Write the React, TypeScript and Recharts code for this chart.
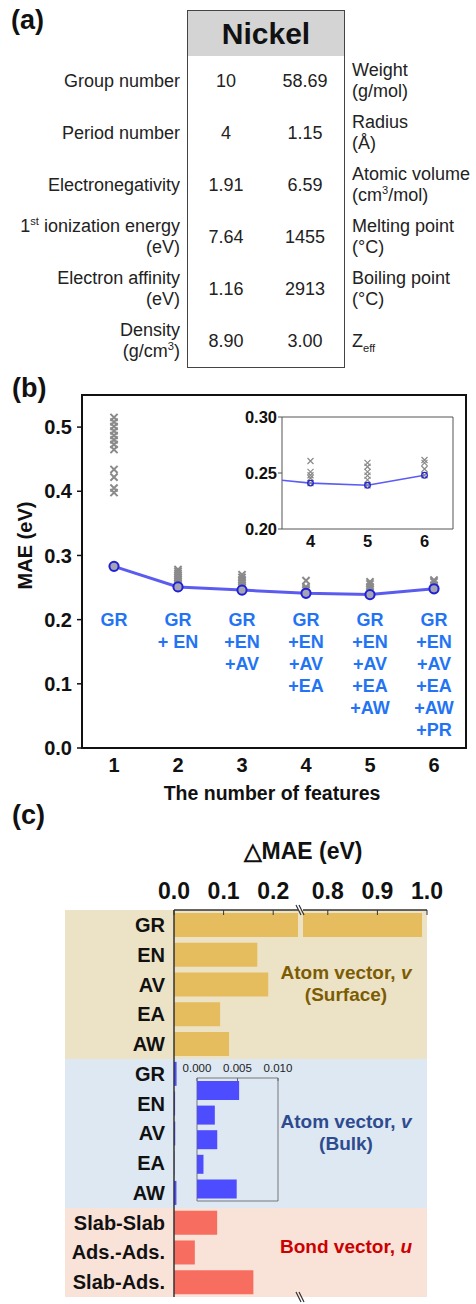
import React from "react";
import { Bar, BarChart, Cell, ComposedChart, Label, Line, ReferenceArea, Scatter, XAxis, YAxis } from "recharts";

const FONT = '"Liberation Sans", Arial, Helvetica, sans-serif';

// (a) Nickel descriptor card
const sup = { fontSize: "0.62em", verticalAlign: "super", lineHeight: 0 } as const;
const sub = { fontSize: "0.62em", verticalAlign: "sub", lineHeight: 0 } as const;
const nickelLeftNames: React.ReactNode[][] = [
  ["Group number"],
  ["Period number"],
  ["Electronegativity"],
  [<>1<span style={sup}>st</span> ionization energy</>, "(eV)"],
  ["Electron affinity", "(eV)"],
  ["Density", <>(g/cm<span style={sup}>3</span>)</>],
];
const nickelLeftValues = ["10", "4", "1.91", "7.64", "1.16", "8.90"];
const nickelRightValues = ["58.69", "1.15", "6.59", "1455", "2913", "3.00"];
const nickelRightNames: React.ReactNode[][] = [
  ["Weight", "(g/mol)"],
  ["Radius", "(Å)"],
  ["Atomic volume", <>(cm<span style={sup}>3</span>/mol)</>],
  ["Melting point", "(°C)"],
  ["Boiling point", "(°C)"],
  [<>Z<span style={sub}>eff</span></>],
];

// (b) MAE vs number of features
const featureCounts = [1, 2, 3, 4, 5, 6];
const bestMae = [0.283, 0.251, 0.246, 0.241, 0.239, 0.248];
const trialMae1 = [0.515, 0.508, 0.501, 0.494, 0.487, 0.48, 0.473, 0.465, 0.434, 0.422, 0.405, 0.398, 0.283];
const trialMae2 = [0.278, 0.275, 0.272, 0.269, 0.266, 0.263, 0.26, 0.257, 0.254, 0.251];
const trialMae3 = [0.27, 0.266, 0.262, 0.259, 0.256, 0.253, 0.25, 0.246];
const trialMae4 = [0.2607, 0.251, 0.248, 0.2455, 0.241];
const trialMae5 = [0.259, 0.2556, 0.251, 0.2476, 0.2438, 0.239];
const trialMae6 = [0.2616, 0.259, 0.2536, 0.248];
const featureSets = [
  ["GR"],
  ["GR", "+ EN"],
  ["GR", "+EN", "+AV"],
  ["GR", "+EN", "+AV", "+EA"],
  ["GR", "+EN", "+AV", "+EA", "+AW"],
  ["GR", "+EN", "+AV", "+EA", "+AW", "+PR"],
];
const maeTicks = [0, 0.1, 0.2, 0.3, 0.4, 0.5];
const maeMinorTicks = [0.05, 0.15, 0.25, 0.35, 0.45];
const insetCounts = [4, 5, 6];
const insetTicks = [0.2, 0.25, 0.3];
const insetMinorTicks = [0.225, 0.275];

// (c) ΔMAE when a feature is dropped
const surfaceFeatures = ["GR", "EN", "AV", "EA", "AW"];
const surfaceDelta = [0.99, 0.168, 0.19, 0.093, 0.111];
const bulkFeatures = ["GR", "EN", "AV", "EA", "AW"];
const bulkDelta = [0.0052, 0.0022, 0.0025, 0.0008, 0.0049];
const bondFeatures = ["Slab-Slab", "Ads.-Ads.", "Slab-Ads."];
const bondDelta = [0.087, 0.042, 0.16];
const deltaTicksLo = [0, 0.1, 0.2];
const deltaMinorLo = [0.05, 0.15];
const deltaTicksHi = [0.8, 0.9, 1.0];
const deltaMinorHi = [0.85, 0.95];
const bulkInsetTicks = [0, 0.005, 0.01];
const bulkInsetMinor = [0.0025, 0.0075];

const deltaGroups = [
  { key: "surf", names: surfaceFeatures, vals: surfaceDelta, bar: "#e6bd5e", bg: "#ece3c7", ink: "#7c5c02", title: "Atom vector, ", sym: "v", sub: "(Surface)" },
  { key: "bulk", names: bulkFeatures, vals: bulkDelta, bar: "#4d4dff", bg: "#dde8f2", ink: "#2f4b8f", title: "Atom vector, ", sym: "v", sub: "(Bulk)" },
  { key: "bond", names: bondFeatures, vals: bondDelta, bar: "#f76e60", bg: "#f9e2d8", ink: "#cc0000", title: "Bond vector, ", sym: "u", sub: "" },
];

const maeDomain: [number, number] = [0, 0.55];
const countDomain: [number, number] = [0.5, 6.5];
const insetCountDomain: [number, number] = [3.5, 6.5];
const insetMaeDomain: [number, number] = [0.2, 0.3];
const deltaDomainLo: [number, number] = [0, 0.25];
const deltaDomainHi: [number, number] = [0.75, 1.0];
const bulkInsetDomain: [number, number] = [0, 0.01];

const trialPts = [trialMae1, trialMae2, trialMae3, trialMae4, trialMae5, trialMae6].flatMap((vals, i) =>
  vals.map((v) => ({ n: featureCounts[i], v }))
);
const bestPts = featureCounts.map((n, i) => ({ n, v: bestMae[i] }));
const labelAnchor = 0.2;
const labelPts = featureCounts.map((n, i) => ({ n, v: labelAnchor, lines: featureSets[i] }));

const deltaRows = deltaGroups.flatMap((g) =>
  g.names.map((name, i) => ({ id: `${g.key}-${name}`, name, v: g.vals[i], fill: g.bar }))
);
const deltaRowsHi = deltaRows.map((r) => ({ ...r, hi: r.v >= deltaDomainHi[0] ? r.v : null }));
const bulkRows = deltaRows.filter((r) => r.id.startsWith("bulk"));

const cross = (s: number, w: number) => (p: any) => (
  <path
    d={`M${p.cx - s},${p.cy - s}L${p.cx + s},${p.cy + s}M${p.cx - s},${p.cy + s}L${p.cx + s},${p.cy - s}`}
    stroke="#8a8a8a"
    strokeWidth={w}
    fill="none"
  />
);

const FeatureLabel = (p: any) => (
  <text x={p.cx} y={p.cy} textAnchor="middle" fill="#2374f4" fontSize={18} fontWeight={700} fontFamily={FONT}>
    {p.payload.lines.map((t: string, i: number) => (
      <tspan key={i} x={p.cx} dy={i === 0 ? 6.5 : 22}>
        {t}
      </tspan>
    ))}
  </text>
);

const boldTick = (size: number) => ({ fontSize: size, fontWeight: 700, fill: "#111", fontFamily: FONT });

function NickelCard() {
  const rowY = (i: number) => 81 + 52 * i;
  const lh = 21;
  return (
    <>
      <div style={{ position: "absolute", left: 11, top: 7, fontSize: 27, fontWeight: 700, lineHeight: 1 }}>(a)</div>
      <div style={{ position: "absolute", left: 187, top: 10, width: 158, height: 358, border: "1px solid #444", boxSizing: "border-box" }}>
        <div style={{ height: 45, background: "#d4d4d4", fontWeight: 700, fontSize: 30, textAlign: "center", lineHeight: "45px" }}>Nickel</div>
      </div>
      {nickelLeftNames.map((lines, i) => (
        <div key={`l${i}`} style={{ position: "absolute", right: 476 - 180, top: rowY(i) - (lines.length * lh) / 2, textAlign: "right", fontSize: 18, lineHeight: `${lh}px`, whiteSpace: "nowrap", color: "#222" }}>
          {lines.map((t, j) => <div key={j}>{t}</div>)}
        </div>
      ))}
      {nickelLeftValues.map((t, i) => (
        <div key={`v${i}`} style={{ position: "absolute", left: 196, width: 60, top: rowY(i) - lh / 2, textAlign: "center", fontSize: 18, lineHeight: `${lh}px`, color: "#222" }}>{t}</div>
      ))}
      {nickelRightValues.map((t, i) => (
        <div key={`w${i}`} style={{ position: "absolute", left: 275, width: 60, top: rowY(i) - lh / 2, textAlign: "center", fontSize: 18, lineHeight: `${lh}px`, color: "#222" }}>{t}</div>
      ))}
      {nickelRightNames.map((lines, i) => (
        <div key={`r${i}`} style={{ position: "absolute", left: 352, top: rowY(i) - (lines.length * lh) / 2, fontSize: 18, lineHeight: `${lh}px`, whiteSpace: "nowrap", color: "#222" }}>
          {lines.map((t, j) => <div key={j}>{t}</div>)}
        </div>
      ))}
    </>
  );
}

function MaePanel() {
  return (
    <>
      <div style={{ position: "absolute", left: 12, top: 375, fontSize: 27, fontWeight: 700, lineHeight: 1 }}>(b)</div>
      <div style={{ position: "absolute", left: 0, top: 380 }}>
        <ComposedChart width={476} height={430} margin={{ top: 15, right: 10, bottom: 12, left: 0 }}>
          <XAxis xAxisId="x" type="number" dataKey="n" domain={countDomain} ticks={featureCounts} interval={0} allowDataOverflow height={50} tickLine={false} tickSize={0} tickMargin={10} axisLine={{ stroke: "#111", strokeWidth: 2 }} tick={boldTick(20)}>
            <Label
              content={(p: any) => (
                <text x={p.viewBox.x + p.viewBox.width / 2 - 2} y={p.viewBox.y + 52} textAnchor="middle" fontSize={19.5} fontWeight={700} fontFamily={FONT} fill="#111">
                  The number of features
                </text>
              )}
            />
          </XAxis>
          <YAxis yAxisId="minor" type="number" dataKey="v" domain={maeDomain} ticks={maeMinorTicks} interval={0} allowDataOverflow width={0} tick={false} tickSize={3} axisLine={false} tickLine={{ stroke: "#111", strokeWidth: 1.5 }} />
          <YAxis yAxisId="main" type="number" dataKey="v" domain={maeDomain} ticks={maeTicks} interval={0} allowDataOverflow width={82} tickSize={5} tickMargin={5} axisLine={{ stroke: "#111", strokeWidth: 2 }} tickLine={{ stroke: "#111", strokeWidth: 1.5 }} tick={boldTick(20)} tickFormatter={(v: number) => v.toFixed(1)}>
            <Label
              content={(p: any) => {
                const x = p.viewBox.x + 25;
                const y = p.viewBox.y + p.viewBox.height / 2 - 26;
                return (
                  <text x={x} y={y} transform={`rotate(-90 ${x} ${y})`} textAnchor="middle" dominantBaseline="central" fontSize={20} fontWeight={700} fontFamily={FONT} fill="#111">
                    MAE (eV)
                  </text>
                );
              }}
            />
          </YAxis>
          <Scatter xAxisId="x" yAxisId="main" data={trialPts} dataKey="v" shape={cross(3.6, 2)} isAnimationActive={false} />
          <Line
            xAxisId="x"
            yAxisId="main"
            data={bestPts}
            dataKey="v"
            stroke="#5b5bf0"
            strokeWidth={3}
            isAnimationActive={false}
            dot={(p: any) => <circle key={`d${p.index}`} cx={p.cx} cy={p.cy} r={4.6} stroke="#2020d8" strokeWidth={2} fill="#a4a4b4" />}
          />
          <Scatter xAxisId="x" yAxisId="main" data={labelPts} dataKey="v" shape={FeatureLabel} isAnimationActive={false} />
          <ReferenceArea xAxisId="x" yAxisId="main" x1={countDomain[0]} x2={countDomain[1]} y1={maeDomain[0]} y2={maeDomain[1]} fill="none" stroke="#111" strokeWidth={2} />
        </ComposedChart>
      </div>
      <div style={{ position: "absolute", left: 222, top: 405 }}>
        <ComposedChart width={240} height={150} margin={{ top: 12, right: 9, bottom: 4, left: 0 }}>
          <XAxis xAxisId="x" type="number" dataKey="n" domain={insetCountDomain} ticks={insetCounts} interval={0} allowDataOverflow height={22} tickLine={false} tickSize={0} tickMargin={6} axisLine={false} tick={boldTick(16.5)} />
          <YAxis yAxisId="minor" type="number" dataKey="v" domain={insetMaeDomain} ticks={insetMinorTicks} interval={0} allowDataOverflow width={0} tick={false} tickSize={-3} axisLine={false} tickLine={{ stroke: "#555" }} />
          <YAxis yAxisId="main" type="number" dataKey="v" domain={insetMaeDomain} ticks={insetTicks} interval={0} allowDataOverflow width={60} tickSize={4} tickMargin={1} axisLine={false} tickLine={{ stroke: "#555" }} tick={boldTick(16.5)} tickFormatter={(v: number) => v.toFixed(2)} />
          <Scatter xAxisId="x" yAxisId="main" data={trialPts.filter((d) => insetCounts.includes(d.n))} dataKey="v" shape={cross(3, 1.2)} isAnimationActive={false} />
          <Line
            xAxisId="x"
            yAxisId="main"
            data={bestPts}
            dataKey="v"
            stroke="#5b5bf5"
            strokeWidth={1.6}
            isAnimationActive={false}
            dot={(p: any) => <circle key={`i${p.index}`} cx={p.cx} cy={p.cy} r={2.8} stroke="#2424cc" strokeWidth={1.3} fill="none" />}
          />
          <ReferenceArea xAxisId="x" yAxisId="main" x1={insetCountDomain[0]} x2={insetCountDomain[1]} y1={insetMaeDomain[0]} y2={insetMaeDomain[1]} fill="none" stroke="#555" strokeWidth={1} />
        </ComposedChart>
      </div>
    </>
  );
}

function DeltaPanel() {
  const plotTop = 910;
  const plotBottom = 1297;
  const rowH = (plotBottom - plotTop) / deltaRows.length;
  let start = 0;
  const bands = deltaGroups.map((g) => {
    const b = { g, top: plotTop + rowH * start, height: rowH * g.names.length };
    start += g.names.length;
    return b;
  });
  const frame = { stroke: "#333", strokeWidth: 1.5 };
  const tickFmt = (v: number) => v.toFixed(1);
  return (
    <>
      <div style={{ position: "absolute", left: 12, top: 802, fontSize: 27, fontWeight: 700, lineHeight: 1 }}>(c)</div>
      <div style={{ position: "absolute", left: 203, width: 200, top: 840, textAlign: "center", fontSize: 23, fontWeight: 700, lineHeight: 1, color: "#111" }}>△MAE (eV)</div>
      {bands.map(({ g, top, height }) => (
        <div key={g.key} style={{ position: "absolute", left: 65, width: 362, top, height, background: g.bg }} />
      ))}
      <div style={{ position: "absolute", left: 0, top: 860 }}>
        <BarChart layout="vertical" width={300} height={440} data={deltaRows} margin={{ top: 10, right: 2, bottom: 3, left: 0 }} barSize={24}>
          <XAxis xAxisId="minor" orientation="top" type="number" domain={deltaDomainLo} ticks={deltaMinorLo} interval={0} allowDataOverflow height={0} tick={false} tickSize={-3} axisLine={false} tickLine={{ stroke: "#333" }} />
          <XAxis xAxisId="main" orientation="top" type="number" domain={deltaDomainLo} ticks={deltaTicksLo} interval={0} allowDataOverflow height={40} tickSize={-5} tickMargin={16} axisLine={frame} tickLine={{ stroke: "#333" }} tick={boldTick(23)} tickFormatter={tickFmt} />
          <XAxis xAxisId="bottom" orientation="bottom" type="number" domain={deltaDomainLo} allowDataOverflow height={0} tick={false} tickLine={false} axisLine={frame} />
          <YAxis yAxisId="cat" type="category" dataKey="id" width={174} interval={0} tickSize={0} tickMargin={9} axisLine={frame} tickLine={false} tick={boldTick(20)} tickFormatter={(_: any, i: number) => deltaRows[i].name} />
          <Bar xAxisId="main" yAxisId="cat" dataKey="v" isAnimationActive={false}>
            {deltaRows.map((r) => (
              <Cell key={r.id} fill={r.fill} />
            ))}
          </Bar>
        </BarChart>
      </div>
      <div style={{ position: "absolute", left: 300, top: 860 }}>
        <BarChart layout="vertical" width={176} height={440} data={deltaRowsHi} margin={{ top: 10, right: 49, bottom: 3, left: 3 }} barSize={24}>
          <XAxis xAxisId="minor" orientation="top" type="number" domain={deltaDomainHi} ticks={deltaMinorHi} interval={0} allowDataOverflow height={0} tick={false} tickSize={-3} axisLine={false} tickLine={{ stroke: "#333" }} />
          <XAxis xAxisId="main" orientation="top" type="number" domain={deltaDomainHi} ticks={deltaTicksHi} interval={0} allowDataOverflow height={40} tickSize={-5} tickMargin={16} axisLine={frame} tickLine={{ stroke: "#333" }} tick={boldTick(23)} tickFormatter={tickFmt} />
          <XAxis xAxisId="bottom" orientation="bottom" type="number" domain={deltaDomainHi} allowDataOverflow height={0} tick={false} tickLine={false} axisLine={frame} />
          <YAxis yAxisId="cat" type="category" dataKey="id" hide />
          <YAxis yAxisId="edge" orientation="right" type="category" dataKey="id" width={0} tick={false} tickLine={false} axisLine={frame} />
          <Bar xAxisId="main" yAxisId="cat" dataKey="hi" isAnimationActive={false}>
            {deltaRowsHi.map((r) => (
              <Cell key={r.id} fill={r.fill} />
            ))}
          </Bar>
        </BarChart>
      </div>
      {[plotTop, plotBottom].map((y) => (
        <svg key={y} style={{ position: "absolute", left: 293, top: y - 7 }} width={14} height={14}>
          <path d="M3,2L8,12M6,2L11,12" stroke="#333" strokeWidth={1.2} fill="none" />
        </svg>
      ))}
      <div style={{ position: "absolute", left: 170, top: 1045 }}>
        <BarChart layout="vertical" width={135} height={160} data={bulkRows} margin={{ top: 10, right: 27, bottom: 4, left: 27 }} barSize={19}>
          <XAxis xAxisId="minor" orientation="top" type="number" domain={bulkInsetDomain} ticks={bulkInsetMinor} interval={0} height={0} tick={false} tickSize={-3} axisLine={false} tickLine={{ stroke: "#666" }} />
          <XAxis xAxisId="main" orientation="top" type="number" domain={bulkInsetDomain} ticks={bulkInsetTicks} interval={0} height={23} tickSize={-3} tickMargin={9} axisLine={false} tickLine={{ stroke: "#666" }} tick={{ fontSize: 11.5, fill: "#222", fontFamily: FONT }} tickFormatter={(v: number) => v.toFixed(3)} />
          <YAxis yAxisId="cat" type="category" dataKey="id" hide />
          <Bar xAxisId="main" yAxisId="cat" dataKey="v" fill="#4d4dff" isAnimationActive={false} />
          <ReferenceArea xAxisId="main" yAxisId="cat" x1={bulkInsetDomain[0]} x2={bulkInsetDomain[1]} fill="none" stroke="#777" strokeWidth={1} />
        </BarChart>
      </div>
      {bands.map(({ g, top, height }) => (
        <div key={`t${g.key}`} style={{ position: "absolute", left: 246, width: 200, top: top + height / 2 - (g.sub ? 0 : 5), transform: "translateY(-50%)", textAlign: "center", fontSize: 19, fontWeight: 700, lineHeight: "22px", color: g.ink, whiteSpace: "nowrap" }}>
          <div>
            {g.title}
            <i>{g.sym}</i>
          </div>
          {g.sub ? <div>{g.sub}</div> : null}
        </div>
      ))}
    </>
  );
}

export default function App() {
  return (
    <div style={{ position: "absolute", left: 0, top: 0, width: 476, height: 1304, background: "#fff", fontFamily: FONT, color: "#111", overflow: "hidden" }}>
      <NickelCard />
      <MaePanel />
      <DeltaPanel />
    </div>
  );
}
